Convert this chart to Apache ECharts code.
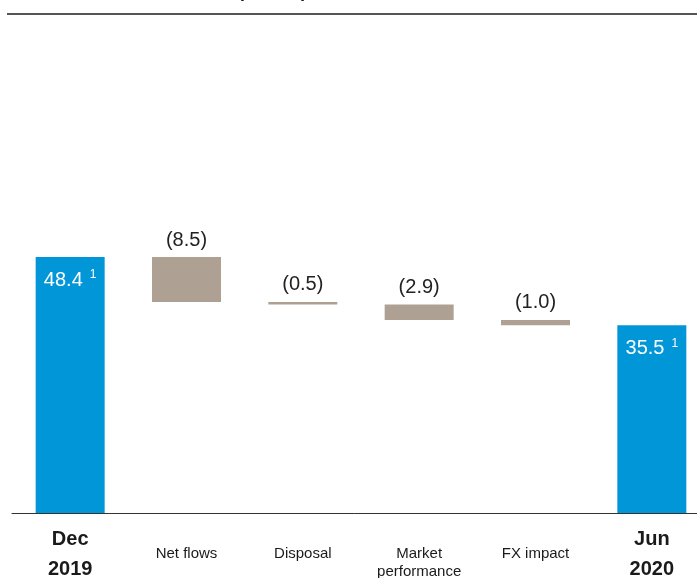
<!DOCTYPE html>
<html>
<head>
<meta charset="utf-8">
<script src="https://cdn.jsdelivr.net/npm/echarts@6/dist/echarts.min.js"></script>
<style>
  html, body { margin: 0; padding: 0; background: #fff; }
  #main { width: 697px; height: 578px; }
</style>
</head>
<body>
<div id="main"></div>
<script>
// categories along the x axis
var categories = ['Dec\n2019', 'Net flows', 'Disposal', 'Market\nperformance', 'FX impact', 'Jun\n2020'];
// opening / closing totals (blue)
var totals = [48.4, '-', '-', '-', '-', 35.5];
// decreases between the two (shown in brackets)
var deltas = ['-', 8.5, 0.5, 2.9, 1.0, '-'];

// invisible base for the waterfall steps
var base = [];
var level = totals[0];
for (var i = 0; i < categories.length; i++) {
  if (deltas[i] === '-') {
    base.push('-');
  } else {
    level = level - deltas[i];
    base.push(+level.toFixed(1));
  }
}

var font = '"Liberation Sans", Arial, Helvetica, sans-serif';
var boldCats = { 0: true, 5: true };

var xData = categories.map(function (c, i) {
  if (boldCats[i]) {
    return { value: c, textStyle: { fontWeight: 'bold', fontSize: 20, lineHeight: 30, color: '#1a1a1a' } };
  }
  return { value: c, textStyle: { fontSize: 15, lineHeight: 18, color: '#1a1a1a', padding: [21, 0, 0, 0] } };
});

var myChart = echarts.init(document.getElementById('main'));
myChart.setOption({
  backgroundColor: '#fff',
  animation: false,
  textStyle: { fontFamily: font },
  graphic: [
    {
      type: 'text',
      x: 238,
      y: -17,
      style: { text: '(US$bn)', font: 'bold 18px ' + font, fill: '#1a1a1a' }
    },
    {
      type: 'line',
      shape: { x1: 7, y1: 14, x2: 697, y2: 14 },
      style: { stroke: '#555', lineWidth: 2 }
    }
  ],
  grid: {
    left: 12,
    right: -13,
    top: 37,
    bottom: 65,
    containLabel: false,
    outerBoundsMode: 'none'
  },
  xAxis: {
    type: 'category',
    data: xData,
    axisTick: { show: false },
    axisLine: { show: true, lineStyle: { color: '#333', width: 1 } },
    axisLabel: {
      interval: 0,
      margin: 11,
      fontFamily: font
    }
  },
  yAxis: {
    type: 'value',
    min: 0,
    max: 90,
    show: false,
    splitLine: { show: false }
  },
  series: [
    {
      name: 'base',
      type: 'bar',
      stack: 'w',
      barWidth: 69,
      data: base,
      itemStyle: { color: 'transparent' },
      silent: true
    },
    {
      name: 'change',
      type: 'bar',
      stack: 'w',
      barWidth: 69,
      data: deltas,
      itemStyle: { color: '#aea193' },
      label: {
        show: true,
        position: 'top',
        distance: 7,
        fontSize: 20,
        color: '#222',
        fontFamily: font,
        formatter: function (p) {
          return '(' + p.value.toFixed(1) + ')';
        }
      }
    },
    {
      name: 'total',
      type: 'bar',
      stack: 'w',
      barWidth: 69,
      data: totals,
      itemStyle: { color: '#0096d8' },
      label: {
        show: true,
        position: 'insideTop',
        distance: 12,
        fontFamily: font,
        formatter: function (p) {
          return '{v|' + p.value.toFixed(1) + '}{s|1}';
        },
        rich: {
          v: { fontSize: 20, color: '#fff', lineHeight: 22, fontFamily: font },
          s: { fontSize: 12, color: '#fff', lineHeight: 12, verticalAlign: 'top', padding: [0, 0, 0, 7], fontFamily: font }
        }
      }
    }
  ]
});
</script>
</body>
</html>
